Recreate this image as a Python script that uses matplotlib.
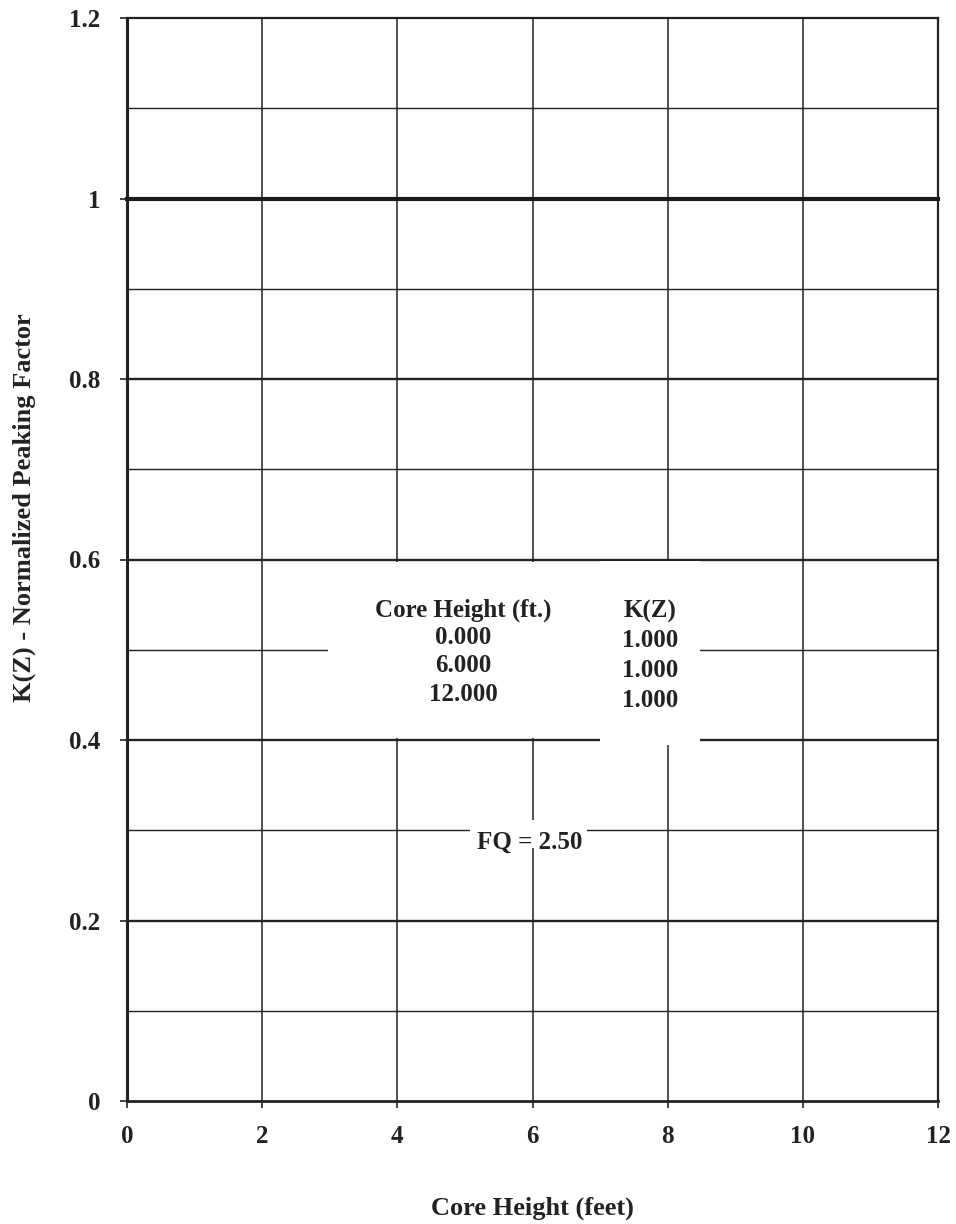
import matplotlib.pyplot as plt
from matplotlib.patches import Rectangle

# data: core height (ft) vs K(Z)
core_height = [0.0, 6.0, 12.0]
kz = [1.0, 1.0, 1.0]
fq = 2.50

x_ticks = [0, 2, 4, 6, 8, 10, 12]
y_ticks = [0, 0.2, 0.4, 0.6, 0.8, 1.0, 1.2]
y_tick_labels = ['0', '0.2', '0.4', '0.6', '0.8', '1', '1.2']
y_minor = [0.1, 0.3, 0.5, 0.7, 0.9, 1.1]

plt.rcParams['font.family'] = ['Liberation Serif', 'DejaVu Serif']
plt.rcParams['font.weight'] = 'bold'

fig = plt.figure(figsize=(9.56, 12.24), dpi=100)
ax = fig.add_axes([127 / 956, 1 - 1101 / 1224, 811 / 956, 1083 / 1224])

ax.set_xlim(0, 12)
ax.set_ylim(0, 1.2)

# grid
gc = '#222222'
for xv in x_ticks[1:-1]:
    ax.axvline(xv, color=gc, lw=1.1, zorder=1)
for yv in y_minor:
    ax.axhline(yv, color=gc, lw=1.0, zorder=1)
for yv in y_ticks[1:-1]:
    ax.axhline(yv, color=gc, lw=1.7, zorder=1)

# the K(Z) curve
ax.plot(core_height, kz, color='#1a1a1a', lw=3.0, zorder=3, clip_on=False)

# white boxes behind the text
for (x0, y0, w, h) in [(2.97, 0.402, 4.03, 0.195),
                       (7.0, 0.394, 1.48, 0.204),
                       (5.07, 0.280, 1.74, 0.031)]:
    ax.add_patch(Rectangle((x0, y0), w, h, facecolor='white',
                           edgecolor='none', zorder=4))

tkw = dict(fontsize=18, fontweight='bold', color='#222222', ha='center',
           va='center', zorder=5)
ax.text(4.97, 0.544, 'Core Height (ft.)', **tkw)
for i, v in enumerate(core_height):
    ax.text(4.97, 0.514 - i * 0.032, f'{v:.3f}', **tkw)
ax.text(7.74, 0.542, 'K(Z)', **tkw)
for i, v in enumerate(kz):
    ax.text(7.74, 0.510 - i * 0.033, f'{v:.3f}', **tkw)
ax.text(5.96, 0.287, f'FQ = {fq:.2f}', **tkw)

# axes styling
for s in ax.spines.values():
    s.set_color(gc)
ax.spines['left'].set_linewidth(2.2)
ax.spines['bottom'].set_linewidth(2.0)
ax.spines['right'].set_linewidth(1.6)
ax.spines['top'].set_linewidth(1.6)

ax.set_xticks(x_ticks)
ax.set_xticklabels([str(v) for v in x_ticks])
ax.set_yticks(y_ticks)
ax.set_yticklabels(y_tick_labels)
ax.tick_params(axis='both', labelsize=18, colors=gc, length=5, width=1.2)
ax.tick_params(axis='y', pad=14)
ax.tick_params(axis='x', pad=12)

ax.set_xlabel('Core Height (feet)', fontsize=19, fontweight='bold',
              color=gc, labelpad=35)
ax.set_ylabel('K(Z) - Normalized Peaking Factor', fontsize=19,
              fontweight='bold', color=gc)
ax.yaxis.set_label_coords(-0.112, 0.548)

fig.savefig('out.png', dpi=100)
